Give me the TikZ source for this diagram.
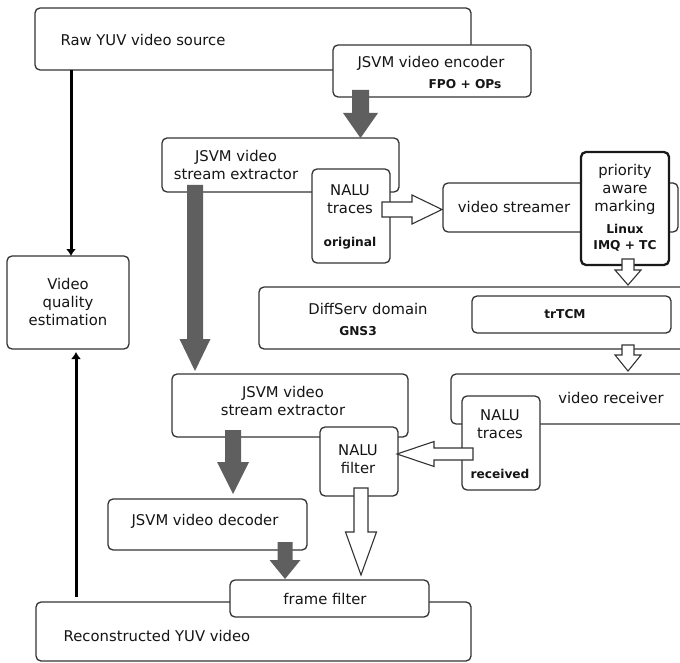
\documentclass[tikz,border=0pt]{standalone}
\usepackage{fontspec}
\setmainfont{DejaVu Sans}
\usetikzlibrary{calc,arrows.meta}

\definecolor{linec}{HTML}{333333}
\definecolor{textc}{HTML}{151515}
\definecolor{darkfill}{HTML}{5F5F5F}

% vertical fat arrow: style, start, tip, shaft half width, head half width, head length
\newcommand\vfat[6]{%
  \draw[#1] let \p1=(#2), \p2=(#3) in
    ({\x1-#4},{\y1}) -- ({\x1-#4},{\y2+#6}) -- ({\x1-#5},{\y2+#6}) -- ({\x1},{\y2})
    -- ({\x1+#5},{\y2+#6}) -- ({\x1+#4},{\y2+#6}) -- ({\x1+#4},{\y1}) -- cycle;}
% horizontal fat arrow: head length positive to the right, negative to the left
\newcommand\hfat[6]{%
  \draw[#1] let \p1=(#2), \p2=(#3) in
    ({\x1},{\y1-#4}) -- ({\x2-(#6)},{\y1-#4}) -- ({\x2-(#6)},{\y1-#5}) -- ({\x2},{\y1})
    -- ({\x2-(#6)},{\y1+#5}) -- ({\x2-(#6)},{\y1+#4}) -- ({\x1},{\y1+#4}) -- cycle;}
% box from its top-left and bottom-right corners
\newcommand\boxnode[6][]{%
  \node[box,#1,minimum width={#4-#2},minimum height={#5-#3}] (#6) at ({(#2+#4)/2},{(#3+#5)/2}) {};}

\tikzset{
  box/.style={draw=linec,line width=1.3pt,rounded corners=5pt,fill=white,inner sep=0pt,outer sep=0pt},
  thickbox/.style={line width=2.3pt,draw=black!90},
  txt/.style={text=textc,align=center,inner sep=0pt,font=\fontsize{14.8pt}{18pt}\selectfont},
  btxt/.style={text=textc,align=center,inner sep=0pt,font=\fontsize{12.2pt}{16pt}\selectfont\bfseries},
  darkarrow/.style={fill=darkfill,draw=none},
  whitearrow/.style={fill=white,draw=linec,line width=1.1pt,line join=miter},
  thinarrow/.style={draw=black,line width=3pt,-{Latex[length=7pt,width=10pt]}}
}

\begin{document}
\begin{tikzpicture}[x=1pt,y=-1pt]
\useasboundingbox (0,0) rectangle (680,663);
\clip (0,0) rectangle (680,663);

% source and encoder
\boxnode{35}{8}{471}{70}{raw}
\node[txt] (rawt) at (143,40) {Raw YUV video source};
\boxnode{333}{45}{531}{97}{enc}
\node[txt] (enct) at (431,63) {JSVM video encoder};
\node[btxt] (encb) at (465,84) {FPO + OPs};

% first extractor and original traces
\boxnode{162}{138}{399}{192}{ext1}
\node[txt] (ext1t) at (236,165) {JSVM video\\stream extractor};
\boxnode{312}{169}{390}{263}{nalu1}
\node[txt] (nalu1t) at (350,199) {NALU\\traces};
\node[btxt] (nalu1b) at (350,243) {original};

% streamer and marking
\boxnode{443}{183}{678}{232}{strm}
\node[txt] (strmt) at (514,207) {video streamer};
\boxnode[thickbox]{581}{152}{669}{265}{prio}
\node[txt] (priot) at (625,189) {priority\\aware\\marking};
\node[btxt] (priob) at (625,238) {Linux\\IMQ + TC};

% network
\boxnode{259}{287}{700}{349}{diff}
\node[txt] (difft) at (368,309) {DiffServ domain};
\node[btxt] (diffb) at (358,331) {GNS3};
\boxnode{472}{296}{671}{333}{trtcm}
\node[btxt] (trtcmt) at (565,314) {trTCM};

% receiver side
\boxnode{451}{374}{700}{424}{recv}
\node[txt] (recvt) at (611,398) {video receiver};
\boxnode{462}{396}{540}{490}{nalu2}
\node[txt] (nalu2t) at (500,424) {NALU\\traces};
\node[btxt] (nalu2b) at (500,474) {received};

% second extractor and filter
\boxnode{172}{374}{408}{437}{ext2}
\node[txt] (ext2t) at (283,401) {JSVM video\\stream extractor};
\boxnode{320}{427}{398}{496}{nfilt}
\node[txt] (nfiltt) at (358,459) {NALU\\filter};

% decoding
\boxnode{108}{499}{307}{550}{dec}
\node[txt] (dect) at (205,521) {JSVM video decoder};
\boxnode{36}{602}{471}{661}{recon}
\node[txt] (recont) at (157,636) {Reconstructed YUV video};
\boxnode{230}{580}{429}{617}{ff}
\node[txt] (fft) at (325,599) {frame filter};

% quality estimation
\boxnode{7}{256}{129}{349}{vqe}
\node[txt] (vqet) at (68,302) {Video\\quality\\estimation};

% dark flow arrows
\vfat{darkarrow}{$(360.5,0 |- enc.south)+(0,-7)$}{360.5,0 |- ext1.north}{8.5pt}{17.5pt}{25pt}
\vfat{darkarrow}{$(195,0 |- ext1.south)+(0,-7)$}{$(195,0 |- ext2.north)+(0,-3)$}{8pt}{15.5pt}{32pt}
\vfat{darkarrow}{$(233,0 |- ext2.south)+(0,-7)$}{$(233,0 |- dec.north)+(0,-5)$}{8pt}{16pt}{32pt}
\vfat{darkarrow}{$(285,0 |- dec.south)+(0,-8)$}{$(285,0 |- ff.north)+(0,-1)$}{7.5pt}{15.5pt}{19pt}

% white flow arrows
\hfat{whitearrow}{$(nalu1.east |- 0,209.5)+(-8,0)$}{$(strm.west |- 0,209.5)+(-1,0)$}{7.5pt}{14.5pt}{30pt}
\vfat{whitearrow}{$(628,0 |- prio.south)+(0,-6)$}{$(628,0 |- diff.north)+(0,-2)$}{6pt}{13pt}{15pt}
\vfat{whitearrow}{$(628,0 |- diff.south)+(0,-4)$}{$(628,0 |- recv.north)+(0,-3)$}{6pt}{13pt}{16pt}
\hfat{whitearrow}{$(nalu2.west |- 0,454)+(11,0)$}{$(nfilt.east |- 0,454)+(-1,0)$}{6pt}{12.5pt}{-37pt}
\vfat{whitearrow}{$(361,0 |- nfilt.south)+(0,-8)$}{$(361,0 |- ff.north)+(0,-5)$}{7pt}{15.5pt}{43pt}

% quality inputs
\draw[thinarrow] (71,0 |- raw.south) -- (71,0 |- vqe.north);
\draw[thinarrow] ($(76,0 |- recon.north)+(0,-5)$) -- ($(76,0 |- vqe.south)+(0,3)$);
\end{tikzpicture}
\end{document}
